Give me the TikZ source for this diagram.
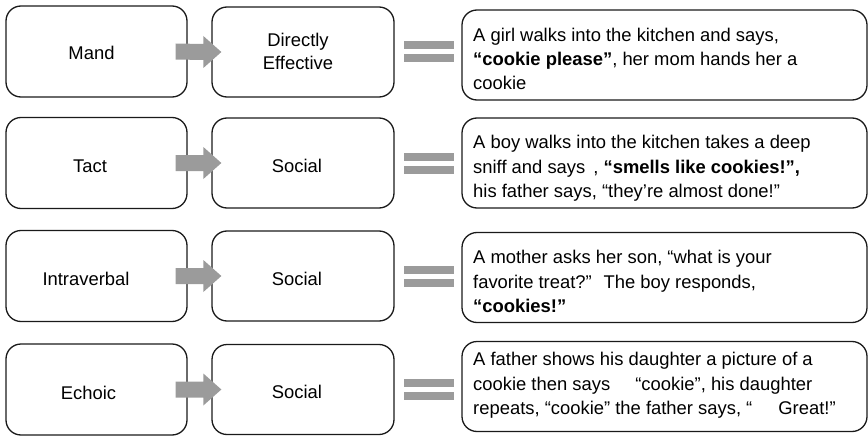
\documentclass[tikz,border=0pt]{standalone}
\usepackage{fontspec}
\setmainfont{Liberation Sans}
\usetikzlibrary{calc}
\definecolor{boxline}{HTML}{1A1A1A}
\definecolor{flowgray}{HTML}{9B9B9B}

% thick grey block arrow from the east side of #1 into the west side of #2
\newcommand\flowarrow[2]{%
  \fill[flow] ($(#1.east)+(-12,-8)$) -- ($(#2.west)+(-8,-8)$) -- ($(#2.west)+(-8,-16)$)
    -- ($(#2.west)+(10,0)$) -- ($(#2.west)+(-8,16)$) -- ($(#2.west)+(-8,8)$)
    -- ($(#1.east)+(-12,8)$) -- cycle;}
% grey equals sign between box #1 and box #2
\newcommand\equalsign[2]{%
  \fill[flow] ($(#1.east)+(9,-10.5)$) rectangle ($(#2.west |- #1.east)+(-7,-2.5)$);
  \fill[flow] ($(#1.east)+(9,2.5)$) rectangle ($(#2.west |- #1.east)+(-7,10.5)$);}

\begin{document}
\begin{tikzpicture}[x=1pt,y=-1pt,
  box/.style={draw=boxline, line width=1.3pt, rounded corners=15pt, inner sep=0pt},
  lbox/.style={box, minimum width=181pt, minimum height=91pt},
  mbox/.style={box, minimum width=182pt, minimum height=90pt},
  rbox/.style={box, minimum width=405pt, minimum height=90pt},
  lbl/.style={inner sep=0pt, anchor=base, align=center, font=\fontsize{18.4pt}{23.5pt}\selectfont},
  story/.style={inner sep=0pt, anchor=base west, align=left, font=\fontsize{18.4pt}{24.3pt}\selectfont},
  flow/.style={fill=flowgray},
]
\useasboundingbox (0,0) rectangle (868,436);

% ---- boxes ----
\node[lbox] (L1) at (96.5,51.5) {};
\node[mbox] (M1) at (303,52) {};
\node[rbox] (R1) at (664.5,55) {};

\node[lbox] (L2) at (96.5,163) {};
\node[mbox] (M2) at (303,163) {};
\node[rbox] (R2) at (664.5,163) {};

\node[lbox] (L3) at (96.5,276) {};
\node[mbox] (M3) at (303,276) {};
\node[rbox] (R3) at (664.5,277.5) {};

\node[lbox] (L4) at (96.5,389.5) {};
\node[mbox] (M4) at (303,389.5) {};
\node[rbox] (R4) at (664.5,386.5) {};

% ---- labels (multi-line nodes sit on the baseline of their last line) ----
\node[lbl] (L1t) at (91.5,60) {Mand};
\node[lbl] (M1t) at (298,70) {Directly\\Effective};
\node[lbl] (L2t) at (90,172) {Tact};
\node[lbl] (M2t) at (297,172) {Social};
\node[lbl] (L3t) at (86,285) {Intraverbal};
\node[lbl] (M3t) at (297,285) {Social};
\node[lbl] (L4t) at (88.5,399) {Echoic};
\node[lbl] (M4t) at (297,398) {Social};

% ---- examples ----
\node[story] (R1t) at (473,90) {A girl walks into the kitchen and says,\\
  \textbf{“cookie please”}, her mom hands her a\\
  cookie};
\node[story] (R2t) at (473,197.5) {A boy walks into the kitchen takes a deep\\
  sniff and says\hspace{8pt}, \textbf{“smells like cookies!”,}\\
  his father says, “they’re almost done!”};
\node[story] (R3t) at (473,312.5) {A mother asks her son, “what is your\\
  favorite treat?”\hspace{5pt} The boy responds,\\
  \textbf{“cookies!”}};
\node[story] (R4t) at (473,414.5) {A father shows his daughter a picture of a\\
  cookie then says\hspace{20pt} “cookie”, his daughter\\
  repeats, “cookie” the father says, “\hspace{26pt}Great!”};

% ---- arrows and equals signs ----
\flowarrow{L1}{M1} \equalsign{M1}{R1}
\flowarrow{L2}{M2} \equalsign{M2}{R2}
\flowarrow{L3}{M3} \equalsign{M3}{R3}
\flowarrow{L4}{M4} \equalsign{M4}{R4}
\end{tikzpicture}
\end{document}
